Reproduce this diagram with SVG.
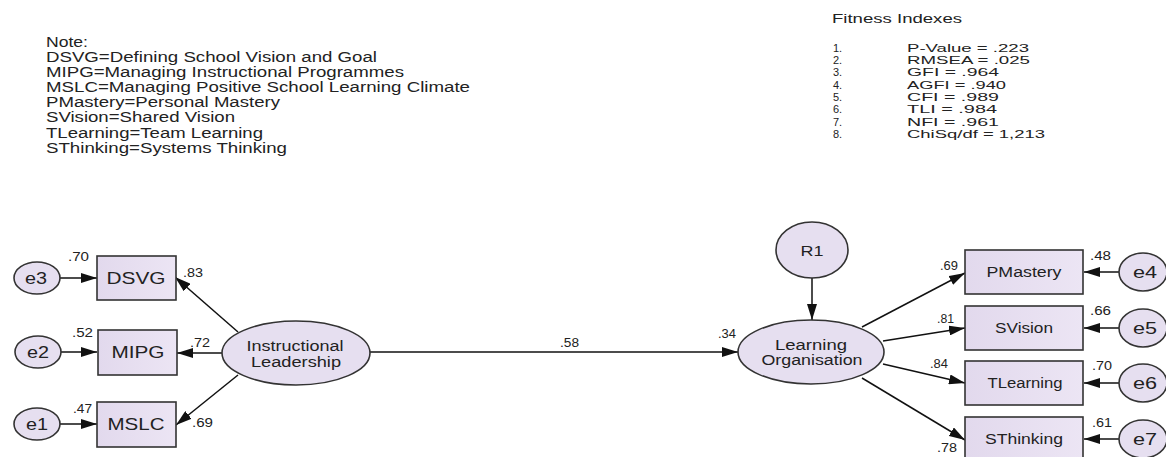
<svg xmlns="http://www.w3.org/2000/svg" width="1166" height="457" viewBox="0 0 1166 457">
<defs>
<marker id="ah" markerWidth="16" markerHeight="10" refX="16" refY="5" orient="auto" markerUnits="userSpaceOnUse">
<path d="M0,0 L16,5 L0,10 Z" fill="#111"/>
</marker>
<linearGradient id="bx" x1="0" y1="0" x2="1" y2="0">
<stop offset="0" stop-color="#e2d9ed"/>
<stop offset="1" stop-color="#ece5f4"/>
</linearGradient>
<style>
text{font-family:"Liberation Sans",Arial,sans-serif;fill:#222;}
.note{font-size:14px;}
.fit{font-size:11px;}
.num{font-size:12.5px;}
.lbl{text-anchor:middle;}
.box{fill:url(#bx);stroke:#333;stroke-width:1.6;}
.ell{fill:#e6dff0;stroke:#333;stroke-width:1.6;}
.conn line{stroke:#111;stroke-width:1.5;marker-end:url(#ah);}
</style>
</defs>
<rect width="1166" height="457" fill="#fff"/>

<g id="note">
<text class="note" x="46" y="47" textLength="42" lengthAdjust="spacingAndGlyphs">Note:</text>
<text class="note" x="46" y="62" textLength="331" lengthAdjust="spacingAndGlyphs">DSVG=Defining School Vision and Goal</text>
<text class="note" x="46" y="77" textLength="358" lengthAdjust="spacingAndGlyphs">MIPG=Managing Instructional Programmes</text>
<text class="note" x="46" y="92" textLength="424" lengthAdjust="spacingAndGlyphs">MSLC=Managing Positive School Learning Climate</text>
<text class="note" x="46" y="107" textLength="234" lengthAdjust="spacingAndGlyphs">PMastery=Personal Mastery</text>
<text class="note" x="46" y="122" textLength="189" lengthAdjust="spacingAndGlyphs">SVision=Shared Vision</text>
<text class="note" x="46" y="138" textLength="217" lengthAdjust="spacingAndGlyphs">TLearning=Team Learning</text>
<text class="note" x="46" y="153" textLength="241" lengthAdjust="spacingAndGlyphs">SThinking=Systems Thinking</text>
</g>

<g id="fitness">
<text class="fit" x="832" y="23" font-size="13" style="font-size:13px" textLength="130" lengthAdjust="spacingAndGlyphs">Fitness Indexes</text>
<text class="fit" x="833" y="52">1.</text>
<text class="fit" x="907" y="52" textLength="122" lengthAdjust="spacingAndGlyphs">P-Value = .223</text>
<text class="fit" x="833" y="64">2.</text>
<text class="fit" x="907" y="64" textLength="123" lengthAdjust="spacingAndGlyphs">RMSEA = .025</text>
<text class="fit" x="833" y="76">3.</text>
<text class="fit" x="907" y="76" textLength="92" lengthAdjust="spacingAndGlyphs">GFI = .964</text>
<text class="fit" x="833" y="89">4.</text>
<text class="fit" x="907" y="89" textLength="99" lengthAdjust="spacingAndGlyphs">AGFI = .940</text>
<text class="fit" x="833" y="101">5.</text>
<text class="fit" x="907" y="101" textLength="92" lengthAdjust="spacingAndGlyphs">CFI = .989</text>
<text class="fit" x="833" y="113">6.</text>
<text class="fit" x="907" y="113" textLength="90" lengthAdjust="spacingAndGlyphs">TLI = .984</text>
<text class="fit" x="833" y="126">7.</text>
<text class="fit" x="907" y="126" textLength="92" lengthAdjust="spacingAndGlyphs">NFI = .961</text>
<text class="fit" x="833" y="138">8.</text>
<text class="fit" x="907" y="138" textLength="138" lengthAdjust="spacingAndGlyphs">ChiSq/df = 1,213</text>
</g>

<g class="conn" id="connectors">
<line x1="60" y1="278" x2="97" y2="278"/>
<line x1="61" y1="352" x2="97" y2="352"/>
<line x1="60" y1="424" x2="97" y2="424"/>
<line x1="238" y1="332" x2="175" y2="277"/>
<line x1="222" y1="353" x2="177" y2="353"/>
<line x1="238" y1="375" x2="176" y2="425"/>
<line x1="370" y1="352" x2="738" y2="352"/>
<line x1="812" y1="278" x2="812" y2="320"/>
<line x1="862" y1="327" x2="965" y2="273"/>
<line x1="883" y1="341" x2="965" y2="328"/>
<line x1="883" y1="364" x2="965" y2="383"/>
<line x1="862" y1="378" x2="965" y2="440"/>
<line x1="1119" y1="272" x2="1084" y2="272"/>
<line x1="1119" y1="328" x2="1084" y2="328"/>
<line x1="1119" y1="383" x2="1084" y2="383"/>
<line x1="1119" y1="439" x2="1084" y2="439"/>
</g>

<g id="e3"><ellipse class="ell" cx="37" cy="278" rx="23" ry="16"/><text class="lbl" x="36" y="284" font-size="16" textLength="22" lengthAdjust="spacingAndGlyphs">e3</text></g>
<g id="e2"><ellipse class="ell" cx="38" cy="352" rx="23" ry="16"/><text class="lbl" x="38" y="358" font-size="16" textLength="22" lengthAdjust="spacingAndGlyphs">e2</text></g>
<g id="e1"><ellipse class="ell" cx="37" cy="424" rx="23" ry="16"/><text class="lbl" x="37" y="430" font-size="16" textLength="22" lengthAdjust="spacingAndGlyphs">e1</text></g>

<g id="DSVG"><rect class="box" x="97" y="256" width="79" height="44"/><text class="lbl" x="136" y="284" font-size="17" textLength="59" lengthAdjust="spacingAndGlyphs">DSVG</text></g>
<g id="MIPG"><rect class="box" x="98" y="330" width="79" height="45"/><text class="lbl" x="138" y="358" font-size="17" textLength="53" lengthAdjust="spacingAndGlyphs">MIPG</text></g>
<g id="MSLC"><rect class="box" x="97" y="402" width="79" height="45"/><text class="lbl" x="136" y="430" font-size="17" textLength="57" lengthAdjust="spacingAndGlyphs">MSLC</text></g>

<g id="IL"><ellipse class="ell" cx="296" cy="353" rx="74" ry="32"/>
<text class="lbl" x="295" y="351" font-size="14" textLength="97" lengthAdjust="spacingAndGlyphs">Instructional</text>
<text class="lbl" x="296" y="367" font-size="14" textLength="90" lengthAdjust="spacingAndGlyphs">Leadership</text></g>

<g id="R1"><ellipse class="ell" cx="812" cy="250" rx="36" ry="28"/><text class="lbl" x="812" y="256" font-size="15" textLength="23" lengthAdjust="spacingAndGlyphs">R1</text></g>

<g id="LO"><ellipse class="ell" cx="811" cy="352" rx="73" ry="32"/>
<text class="lbl" x="811" y="350" font-size="14" textLength="72" lengthAdjust="spacingAndGlyphs">Learning</text>
<text class="lbl" x="812" y="365" font-size="14" textLength="101" lengthAdjust="spacingAndGlyphs">Organisation</text></g>

<g id="PMastery"><rect class="box" x="965" y="250" width="118" height="44"/><text class="lbl" x="1024" y="277" font-size="14" textLength="75" lengthAdjust="spacingAndGlyphs">PMastery</text></g>
<g id="SVision"><rect class="box" x="965" y="306" width="118" height="44"/><text class="lbl" x="1024" y="333" font-size="14" textLength="58" lengthAdjust="spacingAndGlyphs">SVision</text></g>
<g id="TLearning"><rect class="box" x="965" y="361" width="118" height="44"/><text class="lbl" x="1025" y="388" font-size="14" textLength="75" lengthAdjust="spacingAndGlyphs">TLearning</text></g>
<g id="SThinking"><rect class="box" x="965" y="417" width="118" height="44"/><text class="lbl" x="1024" y="444" font-size="14" textLength="78" lengthAdjust="spacingAndGlyphs">SThinking</text></g>

<g id="e4"><ellipse class="ell" cx="1143" cy="272" rx="24" ry="19"/><text class="lbl" x="1145" y="278" font-size="16" textLength="24" lengthAdjust="spacingAndGlyphs">e4</text></g>
<g id="e5"><ellipse class="ell" cx="1143" cy="328" rx="24" ry="19"/><text class="lbl" x="1145" y="334" font-size="16" textLength="24" lengthAdjust="spacingAndGlyphs">e5</text></g>
<g id="e6"><ellipse class="ell" cx="1143" cy="383" rx="24" ry="19"/><text class="lbl" x="1145" y="389" font-size="16" textLength="24" lengthAdjust="spacingAndGlyphs">e6</text></g>
<g id="e7"><ellipse class="ell" cx="1143" cy="439" rx="24" ry="19"/><text class="lbl" x="1145" y="445" font-size="16" textLength="24" lengthAdjust="spacingAndGlyphs">e7</text></g>

<g id="weights">
<text class="num" x="68" y="261" textLength="21" lengthAdjust="spacingAndGlyphs">.70</text>
<text class="num" x="183" y="277" textLength="20" lengthAdjust="spacingAndGlyphs">.83</text>
<text class="num" x="72" y="337" textLength="21" lengthAdjust="spacingAndGlyphs">.52</text>
<text class="num" x="190" y="347" textLength="20" lengthAdjust="spacingAndGlyphs">.72</text>
<text class="num" x="73" y="413" textLength="19" lengthAdjust="spacingAndGlyphs">.47</text>
<text class="num" x="192" y="427" textLength="21" lengthAdjust="spacingAndGlyphs">.69</text>
<text class="num" x="560" y="347" textLength="19" lengthAdjust="spacingAndGlyphs">.58</text>
<text class="num" x="718" y="338" textLength="18" lengthAdjust="spacingAndGlyphs">.34</text>
<text class="num" x="940" y="270" textLength="18" lengthAdjust="spacingAndGlyphs">.69</text>
<text class="num" x="937" y="323" textLength="17" lengthAdjust="spacingAndGlyphs">.81</text>
<text class="num" x="930" y="368" textLength="18" lengthAdjust="spacingAndGlyphs">.84</text>
<text class="num" x="937" y="452" textLength="20" lengthAdjust="spacingAndGlyphs">.78</text>
<text class="num" x="1090" y="260" textLength="21" lengthAdjust="spacingAndGlyphs">.48</text>
<text class="num" x="1090" y="315" textLength="21" lengthAdjust="spacingAndGlyphs">.66</text>
<text class="num" x="1092" y="370" textLength="20" lengthAdjust="spacingAndGlyphs">.70</text>
<text class="num" x="1092" y="427" textLength="20" lengthAdjust="spacingAndGlyphs">.61</text>
</g>
</svg>
